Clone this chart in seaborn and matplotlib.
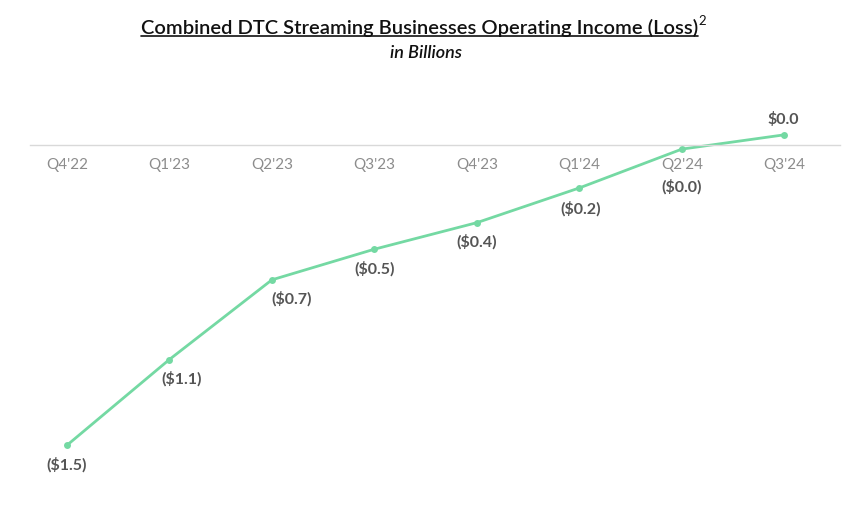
import numpy as np
import pandas as pd
import matplotlib
matplotlib.use("Agg")
import matplotlib.pyplot as plt
import seaborn as sns
from matplotlib.lines import Line2D

# ---- data (billions) ----
quarters = ["Q4'22", "Q1'23", "Q2'23", "Q3'23", "Q4'23", "Q1'24", "Q2'24", "Q3'24"]
income = [-1.47, -1.05, -0.66, -0.51, -0.38, -0.21, -0.02, 0.05]
labels = ["($1.5)", "($1.1)", "($0.7)", "($0.5)", "($0.4)", "($0.2)", "($0.0)", "$0.0"]

df = pd.DataFrame({"quarter": quarters, "income": income, "pos": np.arange(len(quarters))})

sns.set_theme(style="white")
plt.rcParams["font.family"] = ["Lato", "DejaVu Sans"]

fig = plt.figure(figsize=(8.56, 5.08), dpi=100)
ax = fig.add_axes([0.035, 0.055, 0.946, 0.748])

green = "#74d9a3"
sns.lineplot(data=df, x="pos", y="income", ax=ax, color=green, linewidth=2.0,
             marker="o", markersize=5, markeredgewidth=0)

ax.set_xlim(-0.36, 7.54)
ax.set_ylim(-1.64, 0.22)

# zero line as the axis
for s in ["top", "right", "left"]:
    ax.spines[s].set_visible(False)
ax.spines["bottom"].set_position(("data", 0))
ax.spines["bottom"].set_color("#d9d9d9")
ax.spines["bottom"].set_linewidth(1.0)
ax.set_yticks([])
ax.set_xticks(df["pos"])
ax.set_xticklabels(quarters, color="#8c8c8c", fontsize=11)
ax.tick_params(axis="x", length=0, pad=9)
ax.set_xlabel("")
ax.set_ylabel("")

# data labels: (dx, dy) offsets in points
offsets = [(0, -14), (9, -14), (14, -14), (0, -14), (0, -14), (1, -15), (0, -27), (-1, 11)]
for x, y, lab, (dx, dy) in zip(df["pos"], income, labels, offsets):
    ax.annotate(lab, (x, y), xytext=(dx, dy), textcoords="offset points",
                ha="center", va="center", fontsize=11.5, fontweight="bold", color="#555555")

# title with underline and superscript
title = fig.text(0.49, 0.945, "Combined DTC Streaming Businesses Operating Income (Loss)",
                 ha="center", va="center", fontsize=14.5, fontweight="semibold", color="#111111")
fig.text(426 / 856, 0.895, "in Billions", ha="center", va="center",
         fontsize=13, fontweight="semibold", style="italic", color="#111111")

fig.canvas.draw()
bb = title.get_window_extent().transformed(fig.transFigure.inverted())
fig.add_artist(Line2D([bb.x0, bb.x1], [bb.y0 + 0.002, bb.y0 + 0.002],
                      transform=fig.transFigure, color="#111111", linewidth=1.2))
fig.text(bb.x1 + 0.001, bb.y1 - 0.004, "2", ha="left", va="center", fontsize=9.5, color="#111111")

fig.savefig("out.png", dpi=100)
